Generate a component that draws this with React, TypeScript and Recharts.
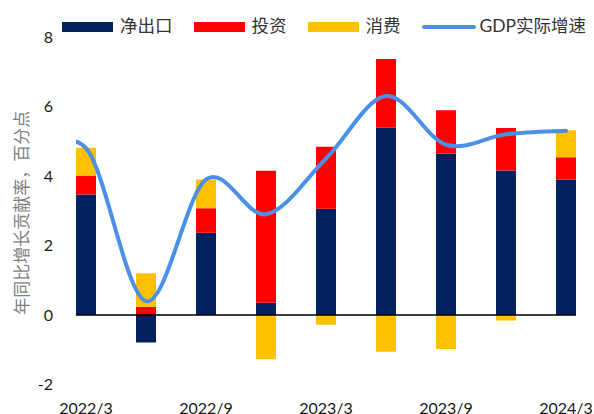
import React from 'react';
import { ComposedChart, Bar, Line, XAxis, YAxis, ReferenceLine } from 'recharts';

// ---- data ----
const categories = ['2022/3', '2022/6', '2022/9', '2022/12', '2023/3', '2023/6', '2023/9', '2023/12', '2024/3'];
const netExports = [3.47, -0.79, 2.37, 0.35, 3.06, 5.39, 4.64, 4.16, 3.9];
const investment = [0.53, 0.24, 0.7, 3.8, 1.78, 1.98, 1.25, 1.22, 0.64];
const consumption = [0.81, 0.96, 0.83, -1.27, -0.28, -1.06, -0.98, -0.16, 0.78];
const gdpCategories = ['2021/12', '2022/3', '2022/6', '2022/9', '2022/12', '2023/3', '2023/6', '2023/9', '2023/12', '2024/3'];
const gdpGrowth = [4.3, 4.8, 0.4, 3.9, 2.9, 4.5, 6.3, 4.9, 5.2, 5.3];
const yTicks = [-2, 0, 2, 4, 6, 8];
const xTickIndexes = [0, 2, 4, 6, 8];
const seriesNames = ['净出口', '投资', '消费', 'GDP实际增速'];
const seriesColors = ['#002060', '#FF0000', '#FFC000', '#4A90E8'];
const yAxisTitle = '年同比增长贡献率，百分点';

const FONT = "Lato, 'Noto Sans CJK SC', sans-serif";

const barData = categories.map((c, i) => ({
  idx: i,
  cat: c,
  net: netExports[i],
  inv: investment[i],
  con: consumption[i],
}));

const lineOffset = gdpCategories.length - categories.length;
const lineData = gdpCategories.map((c, i) => ({ idx: i - lineOffset, cat: c, gdp: gdpGrowth[i] }));

// Excel-like smoothed line (Catmull-Rom -> cubic Bezier)
const excelSmooth = (context: any) => {
  let pts: number[][] = [];
  return {
    areaStart() {},
    areaEnd() {},
    lineStart() {
      pts = [];
    },
    point(x: number, y: number) {
      pts.push([+x, +y]);
    },
    lineEnd() {
      const n = pts.length;
      if (n === 0) return;
      context.moveTo(pts[0][0], pts[0][1]);
      for (let i = 0; i < n - 1; i++) {
        const p0 = pts[i === 0 ? 0 : i - 1];
        const p1 = pts[i];
        const p2 = pts[i + 1];
        const p3 = pts[i + 2 < n ? i + 2 : n - 1];
        context.bezierCurveTo(
          p1[0] + (p2[0] - p0[0]) / 6,
          p1[1] + (p2[1] - p0[1]) / 6,
          p2[0] - (p3[0] - p1[0]) / 6,
          p2[1] - (p3[1] - p1[1]) / 6,
          p2[0],
          p2[1]
        );
      }
    },
  };
};

const renderYLabel = (props: any) => {
  const vb = props.viewBox || { x: 0, y: 37, width: 76, height: 347.5 };
  const cx = vb.x + 21;
  const cy = vb.y + vb.height / 2 + 2;
  return (
    <text
      x={cx}
      y={cy}
      transform={`rotate(-90, ${cx}, ${cy})`}
      textAnchor="middle"
      dominantBaseline="central"
      fontSize={17}
      fontFamily={FONT}
      fill="#7f7f7f"
    >
      {yAxisTitle}
    </text>
  );
};

const Legend = () => (
  <div
    style={{
      position: 'absolute',
      left: 62,
      top: 16,
      height: 20,
      display: 'flex',
      alignItems: 'center',
      fontFamily: FONT,
      fontSize: 17.5,
      color: '#333',
      whiteSpace: 'nowrap',
    }}
  >
    {seriesNames.map((name, i) => {
      const isLine = i === 3;
      return (
        <div key={name} style={{ display: 'flex', alignItems: 'center', marginRight: 21 }}>
          <div
            style={{
              width: isLine ? 54 : 51,
              height: isLine ? 4 : 10,
              borderRadius: isLine ? 2 : 0,
              background: seriesColors[i],
              marginRight: isLine ? 4 : 7,
              marginTop: isLine ? 1 : 2,
            }}
          />
          <span style={{ lineHeight: '20px' }}>{name}</span>
        </div>
      );
    })}
  </div>
);

export default function App() {
  const tickStyle = { fontSize: 16, fill: '#1a1a1a', fontFamily: FONT };
  return (
    <div style={{ position: 'absolute', left: 0, top: 0, width: 594, height: 414, background: '#fff' }}>
      <ComposedChart
        width={594}
        height={414}
        data={barData}
        stackOffset="sign"
        margin={{ top: 37, right: 18, bottom: 0, left: 0 }}
      >
        <XAxis
          dataKey="idx"
          type="number"
          domain={[-1 / 6, 8 + 1 / 6]}
          allowDataOverflow
          ticks={xTickIndexes}
          interval={0}
          tickFormatter={(v: number) => categories[v] ?? ''}
          axisLine={false}
          tickLine={false}
          tickSize={0}
          tickMargin={18}
          height={29.5}
          tick={tickStyle}
        />
        <YAxis
          type="number"
          domain={[-2, 8]}
          ticks={yTicks}
          interval={0}
          allowDataOverflow
          axisLine={false}
          tickLine={false}
          tickSize={0}
          tickMargin={23}
          width={76}
          tick={tickStyle}
          label={{ position: 'center', content: renderYLabel }}
        />
        <Bar dataKey="net" name={seriesNames[0]} stackId="s" fill={seriesColors[0]} barSize={20} isAnimationActive={false} />
        <Bar dataKey="inv" name={seriesNames[1]} stackId="s" fill={seriesColors[1]} barSize={20} isAnimationActive={false} />
        <Bar dataKey="con" name={seriesNames[2]} stackId="s" fill={seriesColors[2]} barSize={20} isAnimationActive={false} />
        <ReferenceLine y={0} stroke="#000" strokeWidth={1.5} />
        <Line
          data={lineData}
          dataKey="gdp"
          name={seriesNames[3]}
          type={excelSmooth as any}
          stroke={seriesColors[3]}
          strokeWidth={4}
          strokeLinecap="round"
          dot={false}
          activeDot={false}
          isAnimationActive={false}
        />
      </ComposedChart>
      <Legend />
    </div>
  );
}
